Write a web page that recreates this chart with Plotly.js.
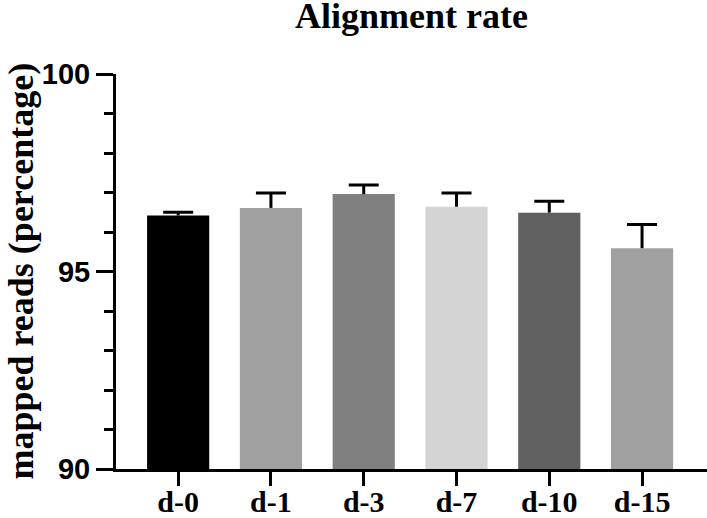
<!DOCTYPE html>
<html>
<head>
<meta charset="utf-8">
<script src="https://cdn.plot.ly/plotly-3.0.1.min.js"></script>
<style>html,body{margin:0;padding:0;background:#fff;}#chart{width:707px;height:518px;}</style>
</head>
<body>
<div id="chart"></div>
<script>
var categories = ["d-0", "d-1", "d-3", "d-7", "d-10", "d-15"];
var means = [96.42, 96.61, 96.96, 96.64, 96.49, 95.59];
var sems = [0.08, 0.38, 0.23, 0.35, 0.29, 0.60];
var barColors = ["#000000", "#a0a0a0", "#808080", "#d4d4d4", "#606060", "#a0a0a0"];
var yTitle = "mapped reads (percentage)";

var zeros = means.map(function(){ return 0; });
var capY = means.map(function(m, i){ return m + sems[i]; });

var bars = {
  type: "bar",
  x: categories,
  y: means,
  marker: {color: barColors, line: {width: 0}},
  error_y: {type: "data", symmetric: false, array: sems, arrayminus: zeros, width: 0, thickness: 3, color: "#000"},
  hoverinfo: "x+y",
  showlegend: false
};
var caps = {
  type: "scatter",
  mode: "markers",
  x: categories,
  y: capY,
  marker: {size: 1, color: "rgba(0,0,0,0)"},
  error_y: {type: "constant", value: 0.0001, width: 15, thickness: 3, color: "#000"},
  hoverinfo: "skip",
  showlegend: false
};

var W = 707, H = 518, ML = 116, MR = 0;
var layout = {
  width: W, height: H,
  margin: {l: ML, r: MR, t: 74, b: 49, pad: 0},
  paper_bgcolor: "#fff", plot_bgcolor: "#fff",
  bargap: 0.33,
  title: {
    text: "Alignment rate",
    font: {family: "Liberation Serif", size: 36, color: "#000", weight: 700},
    x: 0.5, xref: "paper", y: 1 - 3 / H, yref: "container", yanchor: "top"
  },
  xaxis: {
    type: "category",
    range: [-0.67, 5.7],
    showline: true, linecolor: "#000", linewidth: 3,
    ticks: "outside", ticklen: 14, tickwidth: 3, tickcolor: "#000",
    ticklabelstandoff: -10,
    showgrid: false, zeroline: false,
    tickfont: {family: "Liberation Serif", size: 30, color: "#000", weight: 700},
    fixedrange: true
  },
  yaxis: {
    range: [90, 100],
    tick0: 90, dtick: 5,
    showline: true, linecolor: "#000", linewidth: 3,
    ticks: "outside", ticklen: 17, tickwidth: 3, tickcolor: "#000",
    minor: {tick0: 90, dtick: 1, ticks: "outside", ticklen: 9, tickwidth: 3, tickcolor: "#000", showgrid: false},
    showgrid: false, zeroline: false,
    tickfont: {family: "Liberation Sans", size: 29, color: "#000", weight: 700},
    fixedrange: true
  },
  annotations: [{
    text: yTitle, textangle: -90,
    xref: "paper", yref: "paper",
    x: (20 - ML) / (W - ML - MR), y: 0.5,
    xanchor: "center", yanchor: "middle", showarrow: false,
    font: {family: "Liberation Serif", size: 36, color: "#000", weight: 700}
  }]
};

Plotly.newPlot("chart", [bars, caps], layout, {displayModeBar: false, staticPlot: true});
</script>
</body>
</html>
